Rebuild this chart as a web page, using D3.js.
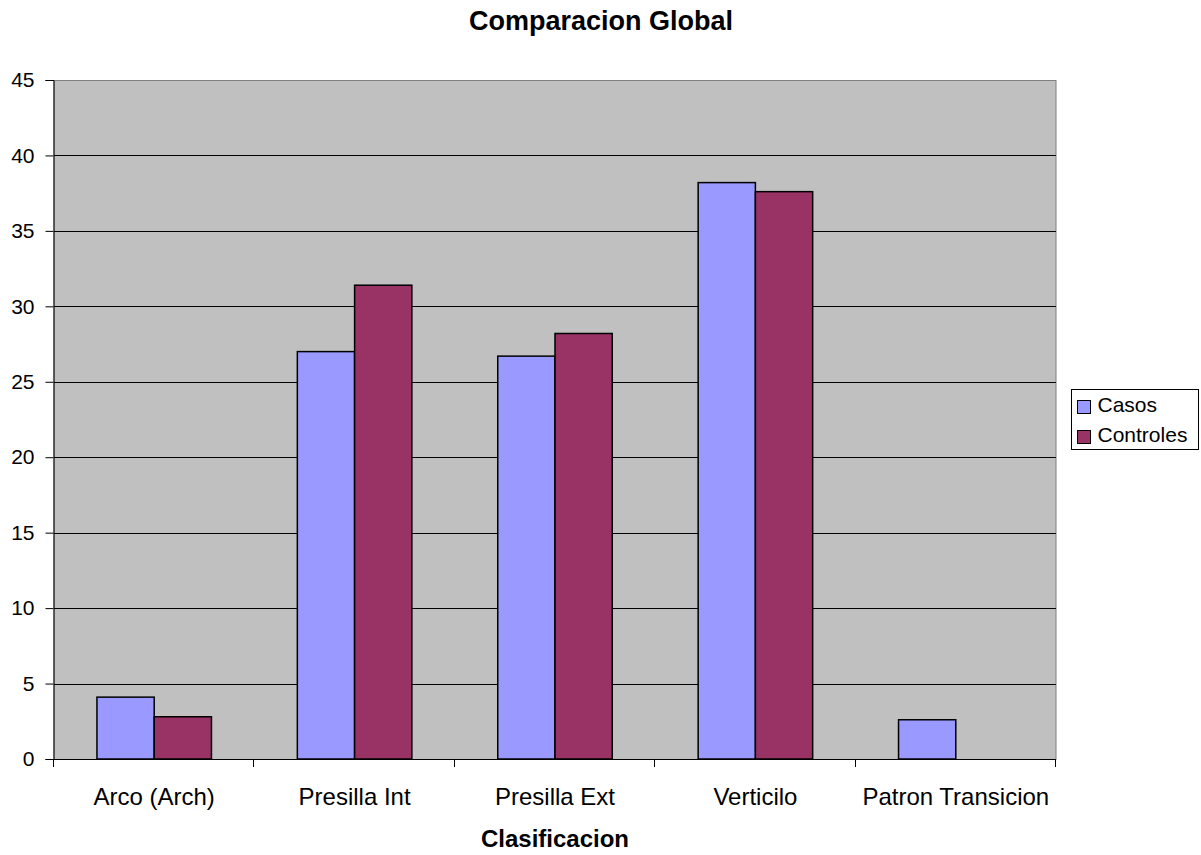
<!DOCTYPE html>
<html>
<head>
<meta charset="utf-8">
<script src="https://cdn.jsdelivr.net/npm/d3@7"></script>
<style>
  html, body { margin: 0; padding: 0; background: #fff; }
  svg text { font-family: "Liberation Sans", Arial, sans-serif; fill: #000; }
</style>
</head>
<body>
<svg id="chart" width="1201" height="855"></svg>
<script>
// Fingerprint pattern classification: percentages per group
const categories = ["Arco (Arch)", "Presilla Int", "Presilla Ext", "Verticilo", "Patron Transicion"];
const seriesNames = ["Casos", "Controles"];
const casos = [4.1, 27.0, 26.7, 38.2, 2.6];
const controles = [2.8, 31.4, 28.2, 37.6, 0];
const yTicks = [0, 5, 10, 15, 20, 25, 30, 35, 40, 45];
const colors = ["#9999ff", "#993366"];

const svg = d3.select("#chart");
const plot = { left: 54, right: 1056, top: 80, bottom: 759 };

const x0 = d3.scaleBand().domain(categories).range([plot.left, plot.right]).paddingInner(0).paddingOuter(0);
// gap of 150% of a bar width between clusters
const x1 = d3.scaleBand().domain(seriesNames).range([0, x0.bandwidth()]).paddingInner(0).paddingOuter(0.75);
const y = d3.scaleLinear().domain([0, 45]).range([plot.bottom, plot.top]);

// plot background
svg.append("rect")
  .attr("x", plot.left).attr("y", plot.top + 0.5)
  .attr("width", plot.right - plot.left).attr("height", plot.bottom - plot.top)
  .attr("fill", "#c0c0c0").attr("stroke", "#808080").attr("stroke-width", 1);

// horizontal gridlines
svg.append("g").selectAll("line").data(yTicks.filter(d => d > 0 && d < 45)).join("line")
  .attr("x1", plot.left).attr("x2", plot.right)
  .attr("y1", d => Math.round(y(d)) + 0.5).attr("y2", d => Math.round(y(d)) + 0.5)
  .attr("stroke", "#000").attr("stroke-width", 1);

// bars
const data = categories.map((c, i) => ({ cat: c, vals: [casos[i], controles[i]] }));
const groups = svg.append("g").selectAll("g").data(data).join("g")
  .attr("transform", d => `translate(${x0(d.cat)},0)`);
groups.selectAll("rect").data(d => d.vals.map((v, j) => ({ v, s: seriesNames[j], j })).filter(e => e.v > 0)).join("rect")
  .attr("x", e => x1(e.s))
  .attr("y", e => y(e.v))
  .attr("width", x1.bandwidth())
  .attr("height", e => y(0) - y(e.v))
  .attr("fill", e => colors[e.j])
  .attr("stroke", "#000").attr("stroke-width", 1.5);

// y axis
const yAxis = d3.axisLeft(y).tickValues(yTicks).tickSize(8).tickPadding(11).tickFormat(d3.format("d"));
const gy = svg.append("g").attr("transform", `translate(${plot.left - 0.5},0)`).call(yAxis);
gy.select(".domain").attr("stroke", "#000");
gy.selectAll(".tick line").attr("stroke", "#000");
gy.selectAll("text").attr("font-size", 21).attr("font-family", "Liberation Sans, Arial, sans-serif");

// x axis with ticks at category boundaries
const gx = svg.append("g").attr("transform", `translate(0,${plot.bottom})`);
gx.append("line").attr("x1", plot.left).attr("x2", plot.right).attr("y1", 0.5).attr("y2", 0.5).attr("stroke", "#000");
const bounds = categories.map(c => x0(c)).concat([plot.right]);
gx.selectAll(".bt").data(bounds).join("line").attr("class", "bt")
  .attr("x1", d => Math.round(d) - 0.5).attr("x2", d => Math.round(d) - 0.5)
  .attr("y1", 0).attr("y2", 8).attr("stroke", "#000");
gx.selectAll(".lbl").data(categories).join("text").attr("class", "lbl")
  .attr("x", d => x0(d) + x0.bandwidth() / 2).attr("y", 46)
  .attr("text-anchor", "middle").attr("font-size", 24).text(d => d);

// titles
svg.append("text").attr("x", 601).attr("y", 30).attr("text-anchor", "middle")
  .attr("font-size", 27).attr("font-weight", "bold").text("Comparacion Global");
svg.append("text").attr("x", (plot.left + plot.right) / 2).attr("y", 847).attr("text-anchor", "middle")
  .attr("font-size", 24).attr("font-weight", "bold").text("Clasificacion");

// legend
const lg = svg.append("g").attr("transform", "translate(1071,389)");
lg.append("rect").attr("x", 0.5).attr("y", 0.5).attr("width", 127).attr("height", 60)
  .attr("fill", "#fff").attr("stroke", "#000");
seriesNames.forEach((s, i) => {
  lg.append("rect").attr("x", 6.5).attr("y", 11.5 + i * 30).attr("width", 13).attr("height", 13)
    .attr("fill", colors[i]).attr("stroke", "#000");
  lg.append("text").attr("x", 26.5).attr("y", 23 + i * 30).attr("font-size", 21).text(s);
});
</script>
</body>
</html>
